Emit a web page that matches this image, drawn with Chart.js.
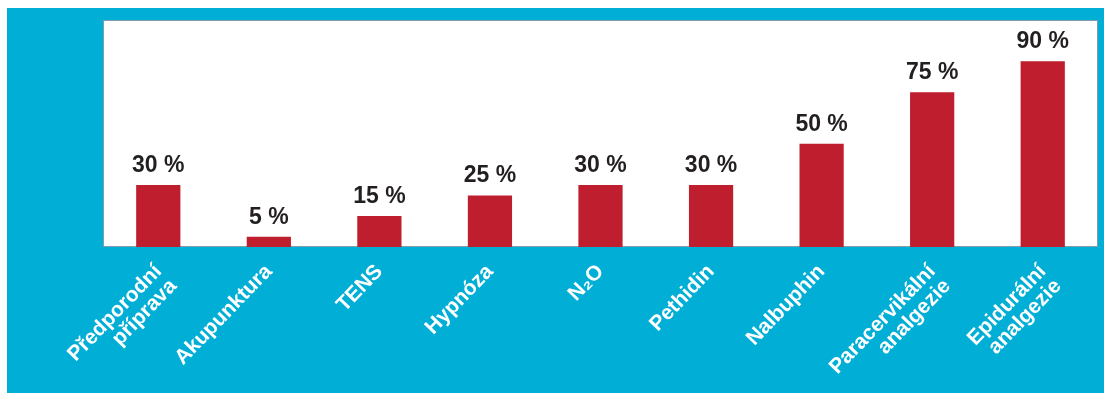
<!DOCTYPE html>
<html>
<head>
<meta charset="utf-8">
<script src="https://cdn.jsdelivr.net/npm/chart.js@4/dist/chart.umd.min.js"></script>
<style>
  body { margin: 0; background: #ffffff; }
  #frame { position: absolute; left: 7px; top: 8px; width: 1097px; height: 385px; background: #00aed6; }
</style>
</head>
<body>
<div id="frame"><canvas id="painChart"></canvas></div>
<script>
// categories and values
const categories = [
    ['Předporodní', 'příprava'],
    'Akupunktura',
    'TENS',
    'Hypnóza',
    'N₂O',
    'Pethidin',
    'Nalbuphin',
    ['Paracervikální', 'analgezie'],
    ['Epidurální', 'analgezie']
];
const values = [30, 5, 15, 25, 30, 30, 50, 75, 90];
const valueLabels = ['30 %', '5 %', '15 %', '25 %', '30 %', '30 %', '50 %', '75 %', '90 %'];

// white plot area with a thin border
const plotBackground = {
    id: 'plotBackground',
    beforeDraw(chart) {
        const { ctx, chartArea } = chart;
        ctx.save();
        ctx.fillStyle = '#ffffff';
        ctx.fillRect(chartArea.left, chartArea.top, chartArea.right - chartArea.left, chartArea.bottom - chartArea.top);
        ctx.strokeStyle = '#7f9eab';
        ctx.lineWidth = 1;
        ctx.strokeRect(chartArea.left + 0.5, chartArea.top + 0.5, chartArea.right - chartArea.left - 1, chartArea.bottom - chartArea.top - 1);
        ctx.restore();
    }
};

// percentage labels above the bars
const barValues = {
    id: 'barValues',
    afterDatasetsDraw(chart) {
        const { ctx } = chart;
        const meta = chart.getDatasetMeta(0);
        ctx.save();
        ctx.fillStyle = '#231f20';
        ctx.font = 'bold 23px "Liberation Sans", Arial, sans-serif';
        ctx.textAlign = 'center';
        ctx.textBaseline = 'alphabetic';
        meta.data.forEach(function(bar, i) {
            ctx.fillText(valueLabels[i], bar.x, bar.y - 13);
        });
        ctx.restore();
    }
};

const ctx = document.getElementById('painChart').getContext('2d');
new Chart(ctx, {
    type: 'bar',
    data: {
        labels: categories,
        datasets: [{
            data: values,
            backgroundColor: '#be1e2d',
            borderWidth: 0,
            barPercentage: 0.4,
            categoryPercentage: 1.0
        }]
    },
    options: {
        responsive: true,
        maintainAspectRatio: false,
        animation: false,
        layout: { padding: { left: 96, right: 6, top: 12, bottom: 0 } },
        plugins: {
            legend: { display: false },
            tooltip: { enabled: false }
        },
        scales: {
            x: {
                grid: { display: false, drawTicks: false },
                border: { display: false },
                afterFit: function(scale) { scale.height = 146; },
                ticks: {
                    color: '#ffffff',
                    padding: 14,
                    minRotation: 46,
                    maxRotation: 46,
                    autoSkip: false,
                    font: { family: '"Liberation Sans", sans-serif', size: 21, weight: 'bold', lineHeight: 1.0 }
                }
            },
            y: {
                display: false,
                min: 0,
                max: 110
            }
        }
    },
    plugins: [plotBackground, barValues]
});
</script>
</body>
</html>
